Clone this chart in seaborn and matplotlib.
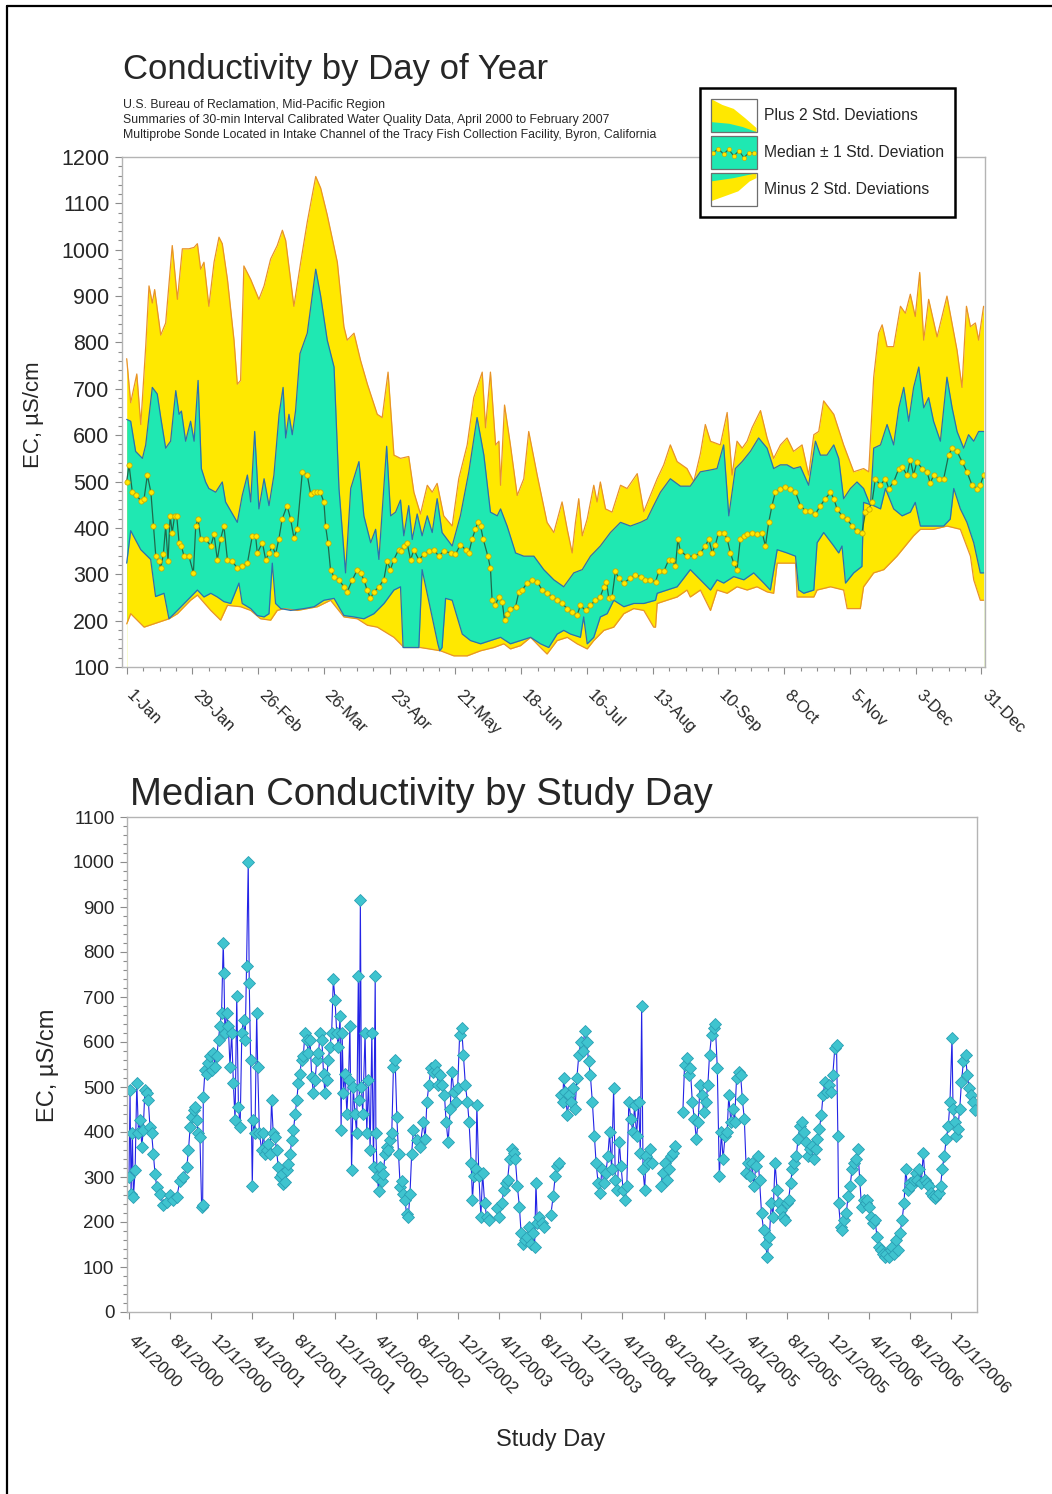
"""
Conductivity at the Tracy Fish Collection Facility intake channel:
day-of-year summary bands (top) and median by study day (bottom).
"""
import numpy as np
import pandas as pd
import matplotlib
matplotlib.use("Agg")
import matplotlib.pyplot as plt
import matplotlib.dates as mdates
import seaborn as sns
from matplotlib.lines import Line2D
from matplotlib.patches import Rectangle, Polygon, Patch
from matplotlib.legend_handler import HandlerBase
from matplotlib.ticker import FixedLocator, MultipleLocator
from matplotlib.transforms import ScaledTranslation

# ---------------------------------------------------------------- data (top)
# day of year -> EC
plus2_day = [1, 2.7, 5.3, 7, 9.1, 10.5, 11.9, 12.9, 15.5, 17.6, 20.4, 22.6, 24.7, 27.5, 29.7, 31.1,
             32.5, 33.9, 36, 38.2, 40.3, 41.7, 43.9, 46.7, 48.1, 49.5, 50.9, 53.8, 57.3, 59.5, 62.3,
             65.1, 67.3, 68.7, 72.2, 75.1, 77.9, 81.5, 83.6, 86.4, 90.7, 93.5, 94.9, 97.8, 100.6,
             103.5, 107.7, 109.8, 112.3, 114.8, 117.6, 121.1, 123.3, 126.1, 129, 131.1, 133.2, 136,
             139.6, 142.4, 146, 148.8, 152.4, 153.8, 155.9, 158.1, 159.5, 160.2, 161.9, 164.4, 167.3,
             170.1, 172.2, 175.8, 180, 182.9, 186.4, 188.6, 190.7, 192.1, 193.5, 195, 197.1, 199.9,
             201.3, 202.7, 204.9, 207.7, 211.3, 214.1, 218.4, 221.2, 226.9, 229.7, 232.5, 235.4,
             239.6, 242.5, 245.3, 247.4, 249.6, 253.8, 256.7, 258.8, 260.9, 263.1, 265.2, 267.3,
             270.9, 273.7, 276.5, 279.4, 282.2, 285, 288.6, 291.4, 293.6, 295.7, 297.8, 302.1, 306.3,
             310.6, 314.8, 317, 319.1, 321.2, 322.7, 324.8, 327.6, 330.5, 332.6, 334.7, 336.8, 338.7,
             340.4, 342.5, 346.1, 350.3, 354.6, 356.7, 358.6, 360.3, 362.4, 363.8, 365.9]
plus2_ec = [765, 670, 732, 623, 791, 922, 885, 914, 816, 842, 1009, 893, 1002, 1002, 1005, 1013,
            958, 973, 878, 973, 1027, 1013, 936, 805, 710, 718, 965, 936, 893, 922, 980,
            1009, 1042, 1020, 878, 973, 1060, 1158, 1133, 1075, 973, 834, 805, 820, 761,
            710, 645, 638, 736, 557, 550, 554, 477, 430, 492, 477, 496, 426,
            404, 506, 579, 681, 736, 616, 736, 579, 587, 492, 665, 579, 470,
            506, 608, 514, 412, 390, 456, 397, 346, 412, 463, 383, 419, 492,
            456, 499, 441, 434, 492, 485, 517, 435, 506, 536, 579, 543,
            528, 500, 560, 623, 587, 579, 649, 514, 587, 572, 587, 616,
            653, 594, 550, 579, 594, 565, 579, 514, 601, 608, 674, 645, 579,
            521, 528, 521, 725, 820, 838, 791, 791, 878, 863, 904, 856, 951,
            805, 893, 812, 900, 783, 703, 878, 834, 842, 805, 878]

plus1_day = [1, 2.7, 4.8, 7.7, 9.1, 11.9, 14, 15.5, 17.6, 19.7, 21.9, 23.3, 24.3, 26.1, 28.2, 29.7,
             31.4, 32.8, 34.6, 36, 38.9, 41.7, 43.1, 48.1, 50.2, 52.4, 53.8, 55.5, 57.3, 59.5, 61.6,
             63.7, 65.9, 67.6, 68.7, 70.1, 71.5, 72.9, 74.8, 77.9, 80, 81.5, 83.6, 86.4, 89.3, 91.4,
             94.2, 96.4, 99.9, 102, 104.9, 107, 108.4, 111.7, 113.4, 115.5, 117.6, 119, 121.1, 122.6,
             124.7, 126.8, 129, 131.1, 133.2, 135.3, 139.6, 143.1, 146.7, 150.2, 153.1, 155.9, 158.8,
             160.2, 163, 166.6, 170.1, 174.4, 178.6, 182.9, 187.1, 191.4, 195, 198.5, 202.7, 207,
             211.3, 215.5, 219.8, 222.6, 225.4, 228.3, 232.5, 236.8, 241, 245.3, 249.6, 252.4, 255.2,
             257.4, 260.2, 263.1, 266.6, 270.1, 273.7, 276.5, 279.4, 282.2, 285, 287.9, 291.4, 294.3,
             296.4, 299.2, 302.1, 304.2, 306.3, 309.2, 312, 314.8, 317.7, 319.1, 322, 324.8, 327.6,
             329.8, 331.9, 334, 336.1, 338.3, 340.4, 342.5, 344.6, 347.5, 350.3, 352.5, 354.6, 357.4,
             359.5, 361.7, 363.8, 365.9]
plus1_ec = [634, 630, 565, 550, 579, 703, 689, 638, 572, 587, 696, 645, 652, 587, 630, 587,
            718, 528, 499, 485, 477, 499, 456, 412, 470, 514, 456, 608, 441, 506, 448,
            514, 645, 703, 594, 645, 601, 652, 776, 820, 900, 958, 900, 805, 747, 485,
            303, 485, 543, 426, 368, 397, 332, 576, 426, 434, 460, 383, 448, 375,
            430, 383, 426, 390, 463, 390, 361, 426, 521, 638, 557, 434, 426,
            441, 404, 346, 339, 339, 310, 288, 273, 303, 310, 339, 361, 390,
            412, 404, 412, 419, 448, 477, 506, 490, 490, 521, 525, 528, 579,
            426, 528, 543, 565, 594, 572, 528, 536, 536, 528, 532, 492, 587,
            557, 557, 579, 550, 463, 485, 499, 485, 448, 572, 579, 623, 579,
            659, 703, 630, 703, 747, 659, 681, 630, 587, 725, 659, 608, 572,
            601, 587, 608, 608]

minus1_day = [1, 2.7, 7, 11.2, 13.3, 16.9, 19, 22.6, 28.2, 31.1, 33.9, 36.8, 39.6, 42.4, 45.3, 48.8,
              50.2, 53.8, 56.6, 59.5, 61.6, 63, 64.4, 66.6, 70.8, 76.5, 80.8, 85, 89.3, 93.5, 97.8,
              102, 106.3, 110.6, 114.8, 117.6, 118.7, 121.9, 125.4, 126.8, 133.5, 134.3, 135.3, 136.8,
              139.6, 143.9, 147.4, 151.7, 155.9, 160.2, 164.4, 168.7, 173, 177.2, 180.7, 184.3, 187.1,
              190, 194.2, 195.6, 197.1, 199.9, 202.7, 205.6, 208.4, 212.7, 216.9, 221.2, 226.2, 226.9,
              231.1, 235.4, 238, 241, 245.3, 249.6, 252.4, 255.2, 259.5, 263.8, 268, 272.3, 275.1, 278,
              282.2, 285.8, 287.2, 289.3, 293.6, 295, 297.8, 302.1, 304.2, 305.6, 307.1, 310.6, 314.1,
              314.8, 319.1, 322, 324.1, 327.6, 331.2, 334.7, 336.8, 339, 344.6, 348.9, 351.7, 353.2,
              356, 358.8, 361.7, 364.5, 365.9]
minus1_ec = [324, 394, 353, 332, 252, 259, 204, 222, 251, 266, 251, 259, 251, 241, 237, 281,
             237, 226, 211, 208, 215, 324, 237, 226, 222, 226, 230, 244, 248, 211, 208,
             204, 215, 237, 266, 273, 142, 142, 142, 310, 150, 135, 142, 248,
             244, 171, 157, 150, 157, 164, 150, 157, 164, 150, 142, 171, 179,
             171, 164, 208, 150, 164, 208, 215, 244, 230, 237, 237, 244, 259,
             266, 273, 290, 310, 288, 266, 288, 281, 295, 288, 303, 281, 266, 353,
             346, 339, 266, 259, 266, 368, 390, 361, 346, 361, 281, 303, 317,
             455, 448, 441, 485, 441, 426, 434, 455, 404, 404, 404, 419, 485,
             441, 412, 368, 303, 303]

minus2_day = [1, 2.7, 8.4, 19, 22.6, 28.2, 31.1, 36.8, 41, 43.9, 49.5, 53.8, 58, 62.3, 65.1, 68,
              73.7, 82.2, 87.8, 93.5, 99.2, 103.5, 107.7, 114.8, 119.1, 121.9, 126.1, 134.6, 140.3,
              146, 151.7, 157.3, 161.6, 164.4, 168.7, 173, 177.2, 180, 184.3, 188.6, 192.8, 197.1,
              199.9, 204.2, 208.4, 212.7, 216.9, 221.2, 225.4, 226.2, 226.9, 231.1, 235.4, 239.6, 241,
              245.3, 249.6, 252.4, 256.7, 260.9, 265.2, 269.4, 273.7, 276.5, 278, 285.8, 286.5, 293.6,
              295, 300.7, 306.3, 307.8, 313.4, 314.8, 319.1, 323.4, 329, 336.1, 339, 344.6, 350.3,
              356, 360.3, 361.7, 364.5, 365.9]
minus2_ec = [193, 215, 186, 204, 215, 244, 255, 222, 201, 233, 230, 222, 204, 201, 222, 226,
             222, 230, 244, 208, 204, 190, 186, 164, 142, 142, 142, 135, 124,
             124, 135, 142, 150, 139, 146, 164, 142, 128, 157, 164, 150, 139,
             157, 179, 186, 215, 226, 222, 186, 186, 237, 244, 251, 266, 251,
             266, 222, 266, 259, 273, 266, 273, 262, 259, 324, 324, 251, 251,
             266, 273, 266, 226, 226, 273, 303, 310, 339, 383, 397, 397, 404,
             397, 339, 288, 244, 244]

median_day = [1, 2, 3.4, 4.8, 7, 8.4, 9.8, 11.3, 12.4, 13.4, 14.8, 15.5, 16.6, 17.6, 18.6, 19.5,
              20.4, 21.4, 22.3, 23.3, 24.3, 25.4, 27.5, 29.4, 30.4, 31.4, 32.5, 34.6, 36.8, 38.2,
              39.6, 41, 42.4, 43.9, 46, 48.1, 50.2, 52.4, 54.5, 55.9, 56.6, 58.8, 60.2, 61.6, 63,
              64.4, 65.8, 67.2, 69.3, 70.8, 72.2, 73.6, 75.8, 77.9, 79.3, 80.7, 82.1, 83.5, 85, 85.7,
              86.7, 87.8, 89.2, 91.4, 93.5, 94.9, 97.1, 99.2, 100.6, 102, 103.4, 104.8, 106.3, 108.4,
              110.5, 111.9, 113.3, 114.7, 116.8, 117.6, 119, 120.4, 121.9, 123.3, 125.4, 127.5, 129.7,
              131.8, 133.9, 136, 138.9, 141, 143.1, 145.3, 146.7, 148.1, 149.5, 150.5, 151.7, 152.8,
              154.8, 155.9, 156.6, 158, 159.5, 160.9, 161.9, 163, 164.4, 166.6, 168, 169.4, 171.5,
              173.7, 175.8, 177.9, 180, 182.2, 184.3, 186.4, 188.6, 190.7, 192.8, 194.2, 196.4, 198.5,
              200.6, 202.7, 204.2, 205.3, 206.3, 207.7, 209.1, 210.5, 212.7, 215.5, 217.6, 219.8,
              221.9, 224, 226.2, 227.6, 229.7, 231.8, 233.3, 234.7, 235.7, 236.8, 239.6, 242.5, 245.3,
              247.4, 248.9, 250.3, 251.7, 253.1, 255.2, 256.7, 258.1, 259.5, 260.9, 262.3, 263.8,
              265.2, 267.3, 269.4, 271.6, 273, 274.4, 275.8, 277.2, 279.4, 281.5, 283.6, 285.8, 287.9,
              290, 292.1, 294.3, 296.4, 298.5, 300.7, 302.1, 303.5, 305.6, 307.8, 309.9, 312, 314.1,
              315.6, 317, 318.4, 319.8, 321.9, 324.1, 325.5, 327.6, 329.8, 331.2, 333.3, 334.7, 336.1,
              337.5, 339.7, 341.8, 343.2, 344.6, 346.8, 348.9, 351, 352.5, 354.6, 356.7, 358.8, 361,
              363.1, 364.5, 365.9]
median_ec = [500, 536, 477, 472, 459, 463, 514, 477, 404, 339, 328, 313, 343, 404, 328, 426,
             390, 426, 426, 368, 361, 339, 339, 303, 404, 419, 376, 376, 361, 386,
             331, 376, 404, 331, 328, 313, 317, 324, 383, 383, 346, 368, 331, 346, 361,
             343, 376, 419, 448, 419, 379, 397, 521, 514, 474, 477, 477, 477, 455, 404,
             368, 310, 295, 288, 273, 262, 288, 310, 303, 288, 266, 248, 262, 273,
             288, 328, 310, 331, 353, 350, 361, 368, 331, 353, 331, 343, 350,
             353, 339, 350, 346, 343, 364, 353, 346, 376, 397, 412, 404, 376,
             339, 313, 244, 233, 252, 241, 201, 215, 226, 230, 262, 266, 281,
             288, 284, 266, 259, 252, 244, 237, 226, 219, 212, 233, 222, 233,
             244, 252, 273, 284, 248, 252, 306, 292, 281, 292, 299, 295,
             288, 288, 284, 306, 306, 331, 331, 317, 376, 350, 339, 339, 346,
             361, 376, 346, 364, 390, 390, 376, 346, 324, 310, 376, 383,
             386, 390, 386, 390, 361, 412, 448, 477, 485, 488, 485, 477, 448,
             437, 437, 430, 448, 463, 477, 463, 441, 426, 419, 404, 393, 390,
             434, 441, 455, 506, 492, 506, 485, 499, 528, 532, 514, 547, 514,
             543, 528, 521, 496, 514, 506, 506, 557, 572, 565, 543, 521, 492,
             485, 492, 514]

doy_ticks = [1, 29, 57, 85, 113, 141, 169, 197, 225, 253, 281, 309, 337, 365]
doy_labels = ["1-Jan", "29-Jan", "26-Feb", "26-Mar", "23-Apr", "21-May", "18-Jun",
              "16-Jul", "13-Aug", "10-Sep", "8-Oct", "5-Nov", "3-Dec", "31-Dec"]

# ------------------------------------------------------------- data (bottom)
study_start = "2000-04-01"
study_day = [0, 3, 6, 10, 13, 18, 23, 28, 33, 38, 42, 47, 52, 57, 62, 67, 72, 77, 82, 92, 102, 112,
             121, 131, 141, 151, 161, 171, 176, 181, 186, 191, 195, 200, 205, 210, 215, 218, 220,
             225, 230, 235, 240, 245, 250, 255, 260, 265, 269, 274, 279, 281, 284, 289, 294, 299,
             304, 309, 314, 319, 324, 329, 334, 339, 344, 348, 353, 356, 360, 365, 368, 373, 378,
             381, 386, 393, 398, 403, 408, 413, 418, 422, 427, 432, 437, 442, 447, 452, 457, 462,
             467, 472, 477, 482, 487, 492, 497, 501, 506, 511, 516, 521, 526, 531, 536, 541, 546,
             551, 556, 561, 566, 571, 576, 580, 585, 590, 595, 600, 605, 610, 615, 620, 625, 628,
             631, 635, 640, 645, 650, 654, 659, 664, 669, 674, 679, 682, 685, 688, 692, 699, 704,
             709, 714, 719, 724, 729, 731, 735, 739, 743, 748, 753, 758, 763, 768, 773, 778, 783,
             788, 793, 798, 803, 807, 812, 817, 822, 827, 832, 837, 842, 852, 862,
             871, 877, 882, 888, 894, 899, 905, 911, 916, 922, 928, 934, 939, 945, 951, 956, 962,
             968, 973, 979, 985, 990, 996, 1002, 1007, 1013, 1017, 1021, 1027, 1030, 1036, 1042,
             1047, 1053, 1059, 1067,
             1090, 1096, 1104, 1110, 1116, 1121, 1127, 1133, 1139, 1144, 1150, 1156, 1161, 1167,
             1173, 1178, 1184, 1190, 1195, 1201, 1205, 1209, 1215, 1222, 1230,
             1249, 1256, 1262, 1267, 1273,
             1279, 1284, 1287, 1292, 1298, 1304, 1309, 1315, 1321, 1326, 1332, 1338, 1344, 1349,
             1355, 1361, 1366, 1372, 1378, 1383, 1389, 1395, 1400, 1406, 1412, 1418, 1423, 1429,
             1435, 1440, 1446, 1452, 1457, 1463, 1469, 1474, 1480, 1486, 1492, 1497, 1503, 1509,
             1514, 1518, 1522, 1527, 1531, 1537, 1543, 1549,
             1575, 1580, 1588, 1594, 1600, 1606, 1611, 1617,
             1640, 1645, 1651, 1657, 1662, 1668, 1674, 1680, 1685, 1691, 1697, 1702, 1708, 1714,
             1719, 1725, 1731, 1736, 1742, 1748, 1754, 1759, 1765, 1771, 1776, 1782, 1788, 1793,
             1799, 1805, 1811, 1816, 1822, 1828, 1833, 1839, 1845, 1850, 1856, 1862, 1867, 1873,
             1879, 1885, 1890, 1896, 1902, 1907, 1913, 1919, 1924, 1930, 1936, 1942, 1947, 1953,
             1959, 1964, 1970, 1976, 1981, 1987, 1993, 1998, 2004, 2010, 2016, 2021, 2027, 2033,
             2038, 2044, 2050, 2055, 2061, 2067, 2072, 2078, 2084, 2090, 2095, 2099, 2101, 2107,
             2112, 2118, 2124, 2129, 2135, 2141, 2147, 2152, 2158, 2164, 2169, 2175, 2181, 2186,
             2192, 2198, 2203, 2209, 2215, 2221, 2226, 2232, 2238, 2243, 2249, 2255, 2260, 2266,
             2272, 2277, 2283, 2289, 2295, 2300, 2306, 2312, 2317, 2323, 2329, 2334, 2340, 2346,
             2352, 2357, 2363, 2369, 2374, 2380, 2386, 2391, 2397, 2403, 2408, 2414, 2420, 2426,
             2431, 2437, 2440, 2445, 2449, 2454, 2460, 2465, 2471, 2477, 2482, 2488, 2494, 2499,
             2505]
median_by_day = [300, 493, 263, 397, 255, 315, 508, 397, 426, 367, 404, 493, 486, 471, 411, 397, 352,
                 307, 278, 263, 237, 244, 259, 248, 255, 292, 300, 322, 359, 411, 434, 449, 456, 426,
                 397, 389, 233, 238, 478, 538, 530, 553, 568, 538, 575, 545, 568, 605, 635, 664, 821,
                 754, 620, 664, 635, 545, 620, 508, 426, 702, 456, 411, 620, 650, 605, 769, 1000, 731,
                 560, 281, 426, 397, 664, 545, 397, 359, 397, 352, 359, 374, 352, 471, 397, 389, 359,
                 322, 300, 307, 285, 289, 315, 330, 352, 382, 404, 441, 471, 508, 530, 560, 568, 620,
                 605, 575, 605, 523, 486, 516, 560, 575, 620, 605, 530, 486, 516, 560, 590, 620, 739,
                 694, 620, 590, 657, 404, 620, 486, 530, 441, 516, 635, 315, 501, 441, 397, 746, 471,
                 915, 501, 441, 620, 397, 516, 359, 620, 322, 746, 397, 300, 270, 322, 292, 307, 352,
                 367, 359, 382, 397, 545, 560, 434, 352, 278, 292, 263, 248, 218, 211, 263, 352, 404,
                 382, 367,
                 422, 384, 467, 504, 542, 534, 549, 534, 504, 527, 504, 482, 422, 377, 452, 534, 489,
                 467, 497, 616, 631, 572, 504, 467, 422, 332, 249, 302, 317, 459, 302, 212, 309, 242,
                 212, 204,
                 231, 212, 242, 272, 287, 294, 339, 362, 354, 339, 279, 234, 175, 152, 160, 167, 190,
                 152, 175, 145, 287, 197, 212, 197, 190,
                 216, 257, 302, 324, 332,
                 482, 467, 519, 489, 437, 482, 467, 497, 452, 519, 572, 601, 579, 624, 601, 557, 527,
                 467, 392, 332, 287, 264, 317, 287, 309, 347, 399, 317, 497, 294, 272, 377, 324, 272,
                 249, 279, 467, 429, 399, 459, 392, 467, 354, 680, 317, 272, 347, 332, 362, 332,
                 279, 309, 332, 294, 317, 347, 354, 369,
                 444, 549, 564, 527, 542, 467, 429, 384, 422, 504, 482, 444, 467, 504, 572, 616, 631,
                 639, 542, 302, 399, 339, 392, 399, 482, 422, 452, 422, 519, 534, 527, 474, 429, 309,
                 332, 302, 332, 279, 324, 347, 294, 219, 182, 152, 122, 167, 242, 212, 332, 272, 242,
                 227, 212, 204, 242, 249, 287, 317, 332, 347, 384, 414, 422, 399, 377, 347, 362, 369,
                 339, 362, 384, 407, 437, 482, 512, 489, 504, 489, 527, 587, 594, 392, 242, 190, 182,
                 204, 219, 257, 279, 317, 332, 339, 362, 294, 234, 249, 242, 249, 234, 212, 197, 204,
                 167, 145, 137, 130, 122, 130, 122, 137, 145, 130, 160, 137, 175, 204, 242, 317, 272,
                 287, 279, 294, 309, 294, 317, 287, 354, 294, 287, 279, 264, 257, 253, 257, 264, 279,
                 317, 347, 384, 414, 467, 609, 452, 422, 392, 407, 452, 512, 557, 572, 527, 497, 482,
                 467, 450]
# days on which the sonde record resumed after an outage
record_restart = [1090, 1249, 1279, 1575, 1640]

# ---------------------------------------------------------------- styling
YELLOW = "#FFE800"
GREEN = "#1FE8B2"
EDGE_OUT = "#E8922A"
EDGE_IN = "#2D6FB0"
MED_LINE = "#1F6A4C"
CYAN = "#3FC4CF"
BLUE = "#2424E6"

sns.set_style("ticks")
plt.rcParams["font.family"] = ["Liberation Sans", "DejaVu Sans"]

W, H = 1052, 1494
fig = plt.figure(figsize=(W / 100, H / 100), dpi=100)


def fx(px):
    return px / W


def fy(py):
    return 1 - py / H


def style_frame(ax):
    for sp in ax.spines.values():
        sp.set_visible(True)
        sp.set_color("#B4B4B4")
        sp.set_linewidth(1.0)
        sp.set_zorder(10)
    ax.tick_params(which="both", direction="out", color="#8C8C8C", width=0.8)
    ax.tick_params(which="major", length=5)
    ax.tick_params(which="minor", length=3)


def shift_xlabels(ax, dx_px):
    # the original tick labels start a little right of their tick
    off = ScaledTranslation(dx_px / 100, 0, fig.dpi_scale_trans)
    for lab in ax.get_xticklabels():
        lab.set_transform(lab.get_transform() + off)


# ------------------------------------------------------------------ top panel
ax1 = fig.add_axes([fx(122), fy(667), fx(985 - 122), (667 - 157) / H])

# stacked fills: each band is painted down to the floor, later layers cover
ax1.fill_between(plus2_day, plus2_ec, 0, color=YELLOW, lw=0, zorder=1)
ax1.fill_between(plus1_day, plus1_ec, 0, color=GREEN, lw=0, zorder=2)
ax1.fill_between(minus1_day, minus1_ec, 0, color=YELLOW, lw=0, zorder=3)
ax1.fill_between(minus2_day, minus2_ec, 0, color="white", lw=0, zorder=4)

sns.lineplot(x=plus2_day, y=plus2_ec, ax=ax1, color=EDGE_OUT, lw=0.9, sort=False,
             estimator=None, zorder=5)
sns.lineplot(x=minus2_day, y=minus2_ec, ax=ax1, color=EDGE_OUT, lw=0.9, sort=False,
             estimator=None, zorder=5)
sns.lineplot(x=plus1_day, y=plus1_ec, ax=ax1, color=EDGE_IN, lw=0.9, sort=False,
             estimator=None, zorder=5)
sns.lineplot(x=minus1_day, y=minus1_ec, ax=ax1, color=EDGE_IN, lw=0.9, sort=False,
             estimator=None, zorder=5)
sns.lineplot(x=median_day, y=median_ec, ax=ax1, color=MED_LINE, lw=0.9, sort=False,
             estimator=None, marker="o", markersize=3.8, markerfacecolor=YELLOW,
             markeredgecolor="#C9A200", markeredgewidth=0.5, zorder=6)

ax1.set_xlim(-1, 366.5)
ax1.set_ylim(100, 1200)
ax1.yaxis.set_major_locator(MultipleLocator(100))
ax1.yaxis.set_minor_locator(MultipleLocator(20))
ax1.xaxis.set_major_locator(FixedLocator(doy_ticks))
ax1.xaxis.set_minor_locator(FixedLocator(list(range(1, 366, 7))))
ax1.set_xticklabels(doy_labels, rotation=-45, ha="left", va="top",
                    rotation_mode="anchor", fontsize=12)
ax1.tick_params(axis="x", which="major", pad=10)
ax1.tick_params(axis="y", labelsize=15.5, pad=4)
ax1.set_xlabel("")
ax1.set_ylabel("")
style_frame(ax1)
shift_xlabels(ax1, 8)

fig.text(fx(123), fy(70), "Conductivity by Day of Year", fontsize=25,
         ha="left", va="center")
subtitle = ["U.S. Bureau of Reclamation, Mid-Pacific Region",
            "Summaries of 30-min Interval Calibrated Water Quality Data, April 2000 to February 2007",
            "Multiprobe Sonde Located in Intake Channel of the Tracy Fish Collection Facility, Byron, California"]
for i, line in enumerate(subtitle):
    fig.text(fx(123), fy(105 + 15 * i), line, fontsize=8.85, ha="left", va="center")
fig.text(fx(33), fy(415), "EC, µS/cm", rotation=90, fontsize=16, ha="center", va="center")


# legend with small picture icons like the original
class BandIcon(HandlerBase):
    def __init__(self, kind):
        super().__init__()
        self.kind = kind

    def create_artists(self, legend, orig_handle, xdescent, ydescent, width, height,
                       fontsize, trans):
        x0, y0, w, h = -xdescent, -ydescent, width, height
        arts = [Rectangle((x0, y0), w, h, facecolor="white", edgecolor="none", transform=trans)]
        if self.kind == "plus":
            arts.append(Polygon([(x0, y0), (x0, y0 + h), (x0 + 0.25 * w, y0 + 0.82 * h),
                                 (x0 + 0.5 * w, y0 + 0.7 * h), (x0 + 0.75 * w, y0 + 0.42 * h),
                                 (x0 + w, y0 + 0.12 * h), (x0 + w, y0)],
                                facecolor=YELLOW, edgecolor="none", transform=trans))
            arts.append(Polygon([(x0, y0), (x0, y0 + 0.3 * h), (x0 + 0.4 * w, y0 + 0.25 * h),
                                 (x0 + 0.7 * w, y0 + 0.15 * h), (x0 + w, y0)],
                                facecolor=GREEN, edgecolor="none", transform=trans))
        elif self.kind == "median":
            arts.append(Rectangle((x0, y0), w, h, facecolor=GREEN, edgecolor="none",
                                  transform=trans))
            xs = x0 + w * np.linspace(0.05, 0.95, 9)
            ys = y0 + h * np.array([0.5, 0.62, 0.45, 0.6, 0.4, 0.55, 0.35, 0.5, 0.5])
            arts.append(Line2D(xs, ys, color=MED_LINE, lw=0.8, marker="o", markersize=3,
                               markerfacecolor=YELLOW, markeredgecolor="#C9A200",
                               markeredgewidth=0.4, transform=trans))
        else:
            arts.append(Polygon([(x0, y0), (x0, y0 + 0.15 * h), (x0 + 0.3 * w, y0 + 0.3 * h),
                                 (x0 + 0.6 * w, y0 + 0.45 * h), (x0 + 0.85 * w, y0 + 0.75 * h),
                                 (x0 + w, y0 + 0.85 * h), (x0 + w, y0 + h), (x0, y0 + h)],
                                facecolor=YELLOW, edgecolor="none", transform=trans))
            arts.append(Polygon([(x0, y0 + h), (x0, y0 + 0.75 * h), (x0 + 0.5 * w, y0 + 0.85 * h),
                                 (x0 + w, y0 + h)],
                                facecolor=GREEN, edgecolor="none", transform=trans))
        arts.append(Rectangle((x0, y0), w, h, facecolor="none", edgecolor="#6E6E6E", lw=0.9,
                              transform=trans))
        return arts


h_plus, h_med, h_minus = Patch(), Patch(), Patch()
leg = fig.legend(handles=[h_plus, h_med, h_minus],
                 labels=["Plus 2 Std. Deviations", "Median ± 1 Std. Deviation",
                         "Minus 2 Std. Deviations"],
                 handler_map={h_plus: BandIcon("plus"), h_med: BandIcon("median"),
                              h_minus: BandIcon("minus")},
                 loc="upper left", bbox_to_anchor=(fx(700), fy(88)), borderaxespad=0,
                 fontsize=11.3, handlelength=2.9, handleheight=2.86, labelspacing=0.26,
                 borderpad=0.7, handletextpad=0.45, fancybox=False, framealpha=1,
                 edgecolor="black")
leg.get_frame().set_linewidth(1.8)

# --------------------------------------------------------------- bottom panel
df = pd.DataFrame({"study_day": study_day, "ec": median_by_day})
df["date"] = pd.Timestamp(study_start) + pd.to_timedelta(df["study_day"], unit="D")
df["segment"] = np.searchsorted(record_restart, df["study_day"], side="right")

ax2 = fig.add_axes([fx(127), fy(1312), fx(977 - 127), (1312 - 817) / H])
sns.lineplot(data=df, x="date", y="ec", units="segment", estimator=None, sort=False,
             ax=ax2, color=BLUE, lw=0.8, marker="D", markersize=5.8,
             markerfacecolor=CYAN, markeredgecolor="#2A9FB4", markeredgewidth=0.6)

ax2.set_xlim(pd.Timestamp("2000-03-26"), pd.Timestamp("2007-02-15"))
ax2.set_ylim(0, 1100)
ax2.yaxis.set_major_locator(MultipleLocator(100))
ax2.yaxis.set_minor_locator(MultipleLocator(20))
ax2.xaxis.set_major_locator(mdates.MonthLocator(bymonth=[4, 8, 12]))
ax2.xaxis.set_major_formatter(mdates.DateFormatter("%-m/%-d/%Y"))
ax2.tick_params(axis="x", which="major", pad=10)
ax2.tick_params(axis="y", labelsize=13.5, pad=4)
ax2.set_xlabel("")
ax2.set_ylabel("")
style_frame(ax2)
fig.canvas.draw()
plt.setp(ax2.get_xticklabels(), rotation=-45, ha="left", va="top",
         rotation_mode="anchor", fontsize=12.5)
shift_xlabels(ax2, 7)

fig.text(fx(130), fy(795), "Median Conductivity by Study Day", fontsize=27.5,
         ha="left", va="center")
fig.text(fx(48), fy(1065), "EC, µS/cm", rotation=90, fontsize=17, ha="center", va="center")
fig.text(fx(551), fy(1440), "Study Day", fontsize=17, ha="center", va="center")

# page border (top and left edges are visible in the original scan)
fig.add_artist(Line2D([fx(7), fx(7)], [0, fy(6)], color="black", lw=1.6))
fig.add_artist(Line2D([fx(7), 1], [fy(6), fy(6)], color="black", lw=1.6))

fig.savefig("out.png", dpi=100, facecolor="white")
